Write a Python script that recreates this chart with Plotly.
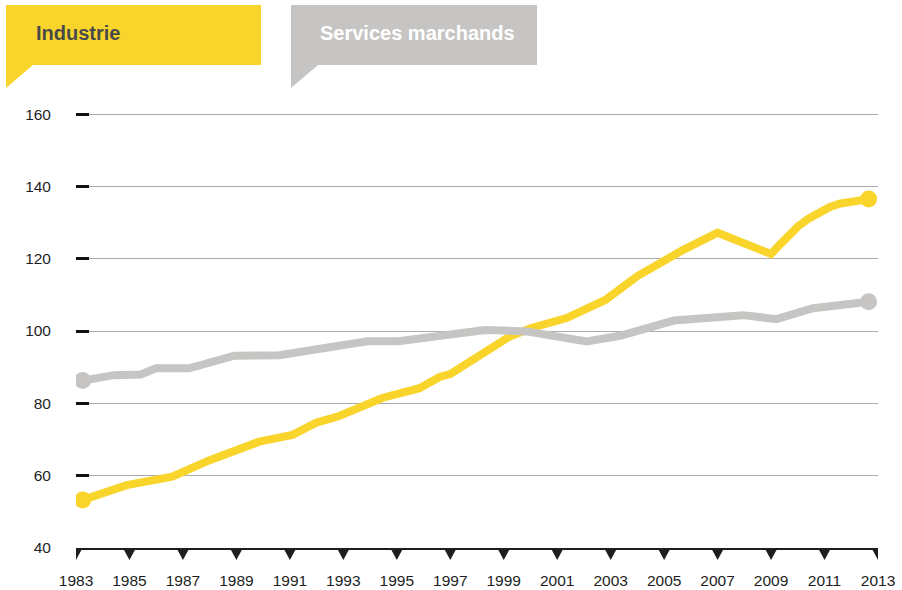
import plotly.graph_objects as go

# Index series (decimal year, index value)
industrie_x = [1983.25, 1984.9, 1986.6, 1988.0, 1989.85, 1991.1, 1992.0, 1992.85,
               1994.45, 1995.85, 1996.6, 1997.0, 1999.2, 2000.0, 2001.35, 2002.8,
               2004.0, 2005.7, 2007.0, 2009.0, 2009.3, 2009.6, 2010.0, 2010.4,
               2010.8, 2011.2, 2011.6, 2012.1, 2012.65]
industrie_y = [53.3, 57.4, 59.7, 64.3, 69.4, 71.3, 74.7, 76.5,
               81.5, 84.2, 87.3, 88.1, 98.4, 100.8, 103.6, 108.6,
               115.2, 122.4, 127.2, 121.3, 123.7, 126.1, 128.9, 131.1,
               132.9, 134.3, 135.3, 136.0, 136.5]

services_x = [1983.25, 1984.42, 1985.42, 1986.0, 1987.23, 1988.92, 1990.6, 1993.9,
              1995.06, 1998.3, 1999.85, 2002.1, 2003.35, 2005.36, 2007.95, 2009.2,
              2010.57, 2012.65]
services_y = [86.3, 87.8, 88.0, 89.7, 89.7, 93.2, 93.3, 97.2,
              97.2, 100.3, 99.9, 97.1, 98.7, 102.9, 104.4, 103.3,
              106.3, 108.1]

x_ticks = list(range(1983, 2014, 2))
y_ticks = [40, 60, 80, 100, 120, 140, 160]

YELLOW = "#F9D52B"
GREY = "#C6C5C3"
INK = "#1E1E1E"
FONT = "Liberation Sans, Arial, sans-serif"

W, H = 902, 590
L, R, T, B = 76, 24, 104, 42
Y_MAX = 162.8  # a little headroom so the 160 gridline is drawn


def px(xp):
    return (xp - L) / (W - L - R)


def py(yp):
    return (H - B - yp) / (H - T - B)


fig = go.Figure()

fig.add_trace(go.Scatter(x=industrie_x, y=industrie_y, mode="lines",
                         line=dict(color=YELLOW, width=8), hoverinfo="skip"))
fig.add_trace(go.Scatter(x=[industrie_x[0], industrie_x[-1]],
                         y=[industrie_y[0], industrie_y[-1]], mode="markers",
                         marker=dict(color=YELLOW, size=17), hoverinfo="skip"))
fig.add_trace(go.Scatter(x=services_x, y=services_y, mode="lines",
                         line=dict(color=GREY, width=8), hoverinfo="skip"))
fig.add_trace(go.Scatter(x=[services_x[0], services_x[-1]],
                         y=[services_y[0], services_y[-1]], mode="markers",
                         marker=dict(color=GREY, size=17), hoverinfo="skip"))

shapes = []
# downward triangles hanging under the x axis at each labelled year
for i, yr in enumerate(x_ticks):
    if i == 0:
        path = "M0,0 L6.5,0 L0,-12 Z"
    elif i == len(x_ticks) - 1:
        path = "M-6.5,0 L0,0 L0,-12 Z"
    else:
        path = "M-6.5,0 L6.5,0 L0,-12 Z"
    shapes.append(dict(type="path", xref="x", yref="paper",
                       xsizemode="pixel", ysizemode="pixel",
                       xanchor=yr, yanchor=0, path=path,
                       fillcolor=INK, line=dict(width=0), layer="above"))


def tab(x0, x1, y0, y1, tail_x, tail_y, color):
    pts = [(x0, y0), (x1, y0), (x1, y1), (tail_x, y1), (x0, tail_y)]
    d = "M" + " L".join(f"{px(a):.5f},{py(b):.5f}" for a, b in pts) + " Z"
    return dict(type="path", xref="paper", yref="paper", path=d,
                fillcolor=color, line=dict(width=0), layer="above")


shapes.append(tab(6, 261, 5, 65, 33, 88, YELLOW))
shapes.append(tab(291, 537, 5, 65, 318, 88, GREY))

annotations = [
    dict(text="<b>Industrie</b>", x=px(34), y=py(33), xref="paper", yref="paper",
         xanchor="left", yanchor="middle", showarrow=False,
         font=dict(family=FONT, size=20, color="#4A4A4A")),
    dict(text="<b>Services marchands</b>", x=px(318), y=py(33), xref="paper",
         yref="paper", xanchor="left", yanchor="middle", showarrow=False,
         font=dict(family=FONT, size=20, color="#FFFFFF")),
]

fig.update_layout(
    width=W, height=H,
    margin=dict(l=L, r=R, t=T, b=B, pad=0, autoexpand=False),
    paper_bgcolor="white", plot_bgcolor="white",
    showlegend=False,
    shapes=shapes,
    annotations=annotations,
    font=dict(family=FONT, size=15, color=INK),
    xaxis=dict(range=[1983, 2013], tickvals=x_ticks, ticktext=[str(v) for v in x_ticks],
               showgrid=False, zeroline=False, showline=True, linecolor=INK,
               linewidth=2, ticks="", ticklabelstandoff=17, automargin=False,
               tickfont=dict(family=FONT, size=15.5, color=INK)),
    yaxis=dict(range=[40, Y_MAX], tickvals=y_ticks, ticktext=[str(v) for v in y_ticks],
               showgrid=True, gridcolor="#ABABAB", gridwidth=1, zeroline=False,
               showline=False, ticks="inside", ticklen=13, tickwidth=3,
               tickcolor="#111111", ticklabelstandoff=24, automargin=False,
               tickfont=dict(family=FONT, size=15.5, color=INK)),
)

fig.write_html("out.html")
